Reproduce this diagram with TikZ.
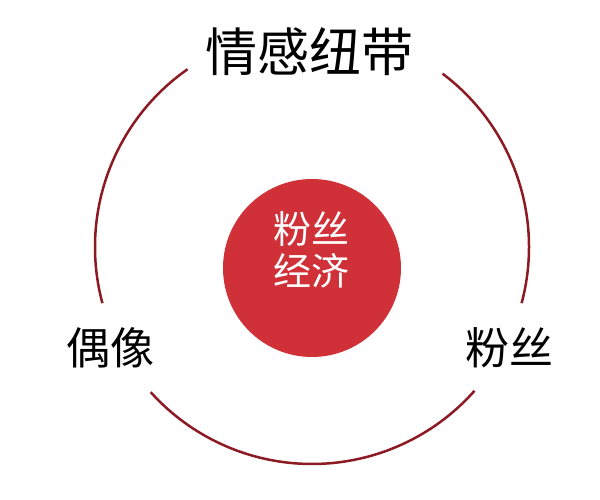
\documentclass[tikz,border=0pt]{standalone}
\usepackage{fontspec}
\newfontfamily\cjk{Noto Sans CJK SC}
\definecolor{ringred}{RGB}{140,26,34}
\definecolor{corered}{RGB}{208,48,56}

\begin{document}
\begin{tikzpicture}[x=1pt,y=1pt,
  ring/.style={draw=ringred,line width=2.5pt},
  label/.style={font=\cjk\fontsize{44}{48}\selectfont,inner sep=0pt}]
\useasboundingbox (0,0) rectangle (600,500);
\coordinate (c) at (312,253);
% outer ring, three arcs
\draw[ring] (c) ++(53:217) arc[start angle=53,end angle=-15,radius=217];
\draw[ring] (c) ++(-41.5:217) arc[start angle=-41.5,end angle=-138,radius=217];
\draw[ring] (c) ++(195:217) arc[start angle=195,end angle=125,radius=217];

\node[circle,fill=corered,minimum size=178pt,inner sep=0pt] (core) at (312,232) {};
\node[font=\cjk\fontsize{38}{42}\selectfont,text=white,align=center,inner sep=0pt] (coretext) at (311.5,250) {粉丝\\经济};

\node[label,font=\cjk\fontsize{52}{56}\selectfont] (bond) at (309,448.5) {情感纽带};
\node[label] (idol) at (110,152.5) {偶像};
\node[label] (fans) at (509.5,152.5) {粉丝};
\end{tikzpicture}
\end{document}
